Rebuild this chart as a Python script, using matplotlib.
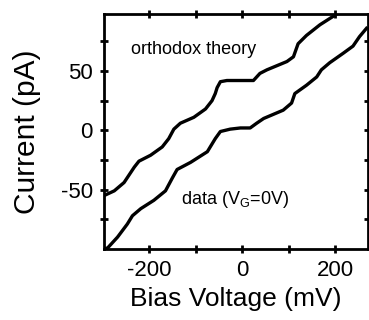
import matplotlib
matplotlib.use("Agg")
import matplotlib.pyplot as plt
from matplotlib.ticker import FixedLocator

plt.rcParams["font.family"] = ["Liberation Sans", "DejaVu Sans"]
plt.rcParams["axes.unicode_minus"] = False
plt.rcParams["mathtext.default"] = "regular"

# orthodox theory curve (mV, pA)
theory_v = [-297, -275, -254, -232, -222, -197, -172, -158, -147, -133, -104, -79, -65, -58,
            -54, -47, -33, -4, 24, 38, 53, 96, 110, 120, 138, 167, 195, 206]
theory_i = [-55, -51, -44, -31, -26, -21, -14, -7, 1, 6, 11, 18, 25, 31,
            36, 41, 42, 42, 42, 48, 51, 58, 62, 73, 80, 89, 96, 99]

# measured data curve, V_G = 0 V
data_v = [-296, -289, -268, -247, -236, -218, -190, -165, -150, -140, -111, -75, -58, -47,
          -26, -4, 17, 31, 46, 88, 106, 113, 138, 160, 170, 188, 217, 238, 252, 267]
data_i = [-100, -99, -90, -79, -72, -66, -59, -51, -40, -33, -27, -18, -7, -1,
          1, 2, 2, 6, 10, 17, 23, 31, 38, 45, 51, 57, 65, 71, 79, 86]

xticks = [-200, 0, 200]
xminor = [-100, 100]
yticks = [-50, 0, 50]
yminor = [-75, -25, 25, 75]

fig = plt.figure(figsize=(3.69, 3.20), dpi=100)
ax = fig.add_axes([0.282, 0.222, 0.715, 0.734])

ax.plot(theory_v, theory_i, color="black", lw=2.4, solid_joinstyle="round")
ax.plot(data_v, data_i, color="black", lw=2.4, solid_joinstyle="round")

ax.text(-240, 68, "orthodox theory", fontsize=13, va="center")
ax.text(-131, -58, "data (V$_G$=0V)", fontsize=13, va="center")

ax.set_xlim(-297, 270)
ax.set_ylim(-100, 98)
ax.xaxis.set_major_locator(FixedLocator(xticks))
ax.xaxis.set_minor_locator(FixedLocator(xminor))
ax.yaxis.set_major_locator(FixedLocator(yticks))
ax.yaxis.set_minor_locator(FixedLocator(yminor))
ax.tick_params(which="both", direction="inout", top=True, right=True, width=2, length=6)
ax.tick_params(axis="x", which="major", labelsize=16, pad=5)
ax.tick_params(axis="y", which="major", labelsize=16, pad=5)
for s in ax.spines.values():
    s.set_linewidth(2)

ax.set_xlabel("Bias Voltage (mV)", fontsize=19, labelpad=4)
ax.set_ylabel("Current (pA)", fontsize=21.5, labelpad=14)

fig.savefig("out.png", dpi=100)
